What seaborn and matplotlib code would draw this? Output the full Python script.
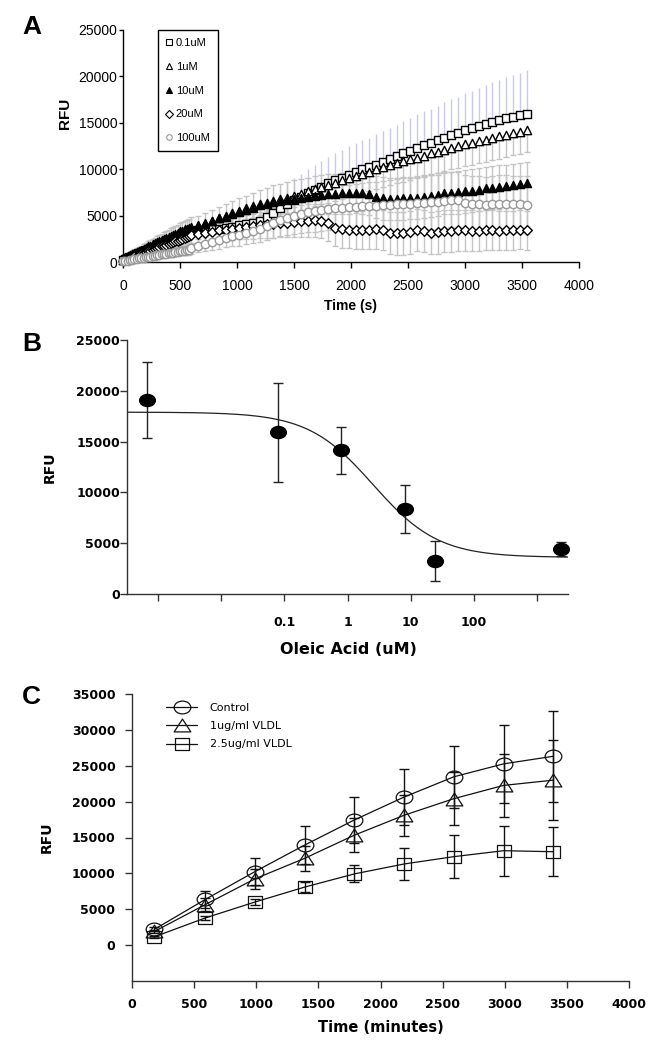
import numpy as np
import pandas as pd
import matplotlib.pyplot as plt
import seaborn as sns
from matplotlib.path import Path
from matplotlib.lines import Line2D
from matplotlib.ticker import NullLocator

# --- style ---
sns.set_theme(style='ticks')
plt.rcParams['font.family'] = ['Liberation Sans', 'DejaVu Sans']
plt.rcParams.update({'text.color': 'black', 'axes.labelcolor': 'black',
                     'xtick.color': 'black', 'ytick.color': 'black',
                     'axes.edgecolor': 'black'})

W, H = 657, 1050

# PANEL A: kinetic reads (RFU vs time in seconds)
time_a = [0, 20, 40, 60, 80, 100, 120, 140, 160, 180,
          200, 220, 240, 260, 280, 300, 320, 340, 360, 380,
          400, 420, 440, 460, 480, 500, 520, 540, 560, 580,
          600, 660, 720, 780, 840, 900, 960, 1020, 1080, 1140,
          1200, 1260, 1320, 1380, 1440, 1500, 1560, 1620, 1680, 1740,
          1800, 1860, 1920, 1980, 2040, 2100, 2160, 2220, 2280, 2340,
          2400, 2460, 2520, 2580, 2640, 2700, 2760, 2820, 2880, 2940,
          3000, 3060, 3120, 3180, 3240, 3300, 3360, 3420, 3480, 3540]

rfu_01 = [200, 320, 410, 530, 620, 740, 830, 960, 1040, 1170,
          1250, 1380, 1460, 1590, 1670, 1800, 1880, 2010, 2090, 2210,
          2290, 2420, 2500, 2610, 2690, 2810, 2890, 3010, 3090, 3200,
          3300, 3400, 3500, 3550, 3600, 3700, 3800, 3950, 4100, 4200,
          4400, 4800, 5300, 5800, 6300, 6700, 7000, 7400, 7800, 8100,
          8500, 8800, 9100, 9400, 9700, 10000, 10200, 10500, 10800, 11100,
          11400, 11700, 12000, 12300, 12600, 12800, 13100, 13400, 13700, 13900,
          14200, 14400, 14700, 14900, 15100, 15300, 15500, 15600, 15800, 16000]
sd_01 = [200, 230, 240, 270, 280, 310, 320, 350, 360, 380,
         410, 420, 450, 460, 490, 500, 530, 540, 560, 590,
         600, 630, 640, 660, 690, 700, 720, 750, 760, 790,
         900, 950, 1000, 1050, 1100, 1180, 1250, 1320, 1400, 1500,
         1600, 1750, 1900, 2050, 2200, 2400, 2500, 2600, 2700, 2800,
         2850, 2900, 3000, 3050, 3100, 3150, 3200, 3250, 3300, 3350,
         3400, 3450, 3500, 3600, 3650, 3700, 3750, 3800, 3850, 3900,
         4000, 4050, 4100, 4200, 4250, 4300, 4400, 4500, 4600, 4700]

rfu_1 = [180, 300, 430, 520, 650, 740, 870, 960, 1090, 1180,
         1310, 1400, 1530, 1620, 1750, 1840, 1970, 2060, 2190, 2280,
         2410, 2490, 2610, 2690, 2810, 2890, 3010, 3090, 3260, 3400,
         3600, 3850, 4100, 4400, 4700, 5000, 5250, 5500, 5800, 6000,
         6200, 6400, 6550, 6750, 6900, 7100, 7350, 7600, 7850, 8100,
         8300, 8550, 8800, 9050, 9250, 9500, 9750, 10000, 10200, 10450,
         10700, 10850, 11050, 11250, 11450, 11700, 11900, 12100, 12300, 12500,
         12700, 12850, 13050, 13200, 13400, 13550, 13700, 13900, 14050, 14250]
sd_1 = [150, 180, 190, 220, 230, 260, 270, 300, 310, 340,
        350, 380, 390, 420, 430, 460, 470, 500, 510, 540,
        550, 580, 590, 620, 630, 650, 670, 690, 700, 720,
        800, 850, 900, 950, 1000, 1050, 1100, 1150, 1200, 1250,
        1300, 1400, 1450, 1550, 1600, 1700, 1750, 1800, 1850, 1900,
        1950, 1950, 2000, 2000, 2050, 2050, 2100, 2100, 2150, 2150,
        2200, 2200, 2250, 2250, 2250, 2300, 2300, 2300, 2300, 2350,
        2350, 2350, 2350, 2400, 2400, 2400, 2400, 2400, 2400, 2400]

rfu_10 = [400, 530, 620, 760, 850, 990, 1080, 1220, 1310, 1450,
          1540, 1680, 1770, 1910, 2000, 2140, 2230, 2370, 2460, 2600,
          2690, 2830, 2920, 3060, 3150, 3290, 3380, 3510, 3590, 3700,
          3800, 3950, 4200, 4450, 4700, 4900, 5150, 5400, 5600, 5850,
          6100, 6250, 6450, 6550, 6700, 6800, 6950, 7050, 7150, 7250,
          7300, 7350, 7400, 7400, 7450, 7400, 7300, 7000, 6850, 6800,
          6800, 6850, 6900, 6950, 7050, 7150, 7250, 7400, 7450, 7500,
          7600, 7700, 7800, 7950, 8000, 8100, 8200, 8300, 8400, 8500]
sd_10 = [200, 240, 260, 300, 320, 360, 380, 420, 440, 470,
         500, 540, 560, 590, 620, 650, 680, 700, 720, 740,
         760, 790, 800, 830, 840, 870, 880, 910, 920, 950,
         1000, 1050, 1100, 1150, 1250, 1300, 1400, 1450, 1500, 1600,
         1650, 1700, 1800, 1850, 1900, 2000, 2000, 2050, 2100, 2100,
         2150, 2150, 2200, 2200, 2200, 2250, 2250, 2250, 2300, 2300,
         2300, 2350, 2300, 2300, 2350, 2300, 2300, 2250, 2300, 2300,
         2300, 2350, 2300, 2300, 2300, 2350, 2300, 2300, 2300, 2300]

rfu_20 = [150, 250, 320, 430, 500, 610, 680, 790, 860, 970,
          1040, 1150, 1220, 1330, 1400, 1510, 1580, 1690, 1760, 1870,
          1940, 2050, 2120, 2230, 2300, 2410, 2490, 2610, 2690, 2800,
          2900, 3000, 3150, 3250, 3400, 3500, 3600, 3700, 3750, 3850,
          3950, 4050, 4100, 4200, 4250, 4300, 4400, 4450, 4500, 4450,
          4200, 3700, 3550, 3500, 3450, 3450, 3500, 3550, 3450, 3150,
          3100, 3100, 3200, 3450, 3300, 3100, 3200, 3350, 3350, 3400,
          3400, 3350, 3350, 3400, 3400, 3350, 3400, 3400, 3450, 3400]
sd_20 = [100, 120, 150, 170, 190, 210, 240, 260, 280, 300,
         330, 350, 370, 390, 420, 440, 460, 480, 510, 530,
         550, 570, 600, 620, 640, 660, 690, 710, 730, 750,
         900, 950, 1000, 1050, 1100, 1150, 1200, 1250, 1300, 1350,
         1400, 1450, 1500, 1550, 1600, 1650, 1700, 1750, 1800, 1850,
         1900, 1950, 2000, 2000, 2050, 2050, 2100, 2100, 2200, 2250,
         2300, 2300, 2300, 2300, 2250, 2250, 2300, 2300, 2250, 2200,
         2200, 2200, 2150, 2150, 2150, 2100, 2100, 2100, 2100, 2100]

rfu_100 = [80, 130, 160, 220, 250, 300, 330, 390, 410, 470,
           500, 560, 580, 640, 660, 720, 750, 810, 830, 890,
           920, 980, 1000, 1060, 1080, 1140, 1160, 1220, 1240, 1300,
           1500, 1750, 1950, 2150, 2400, 2600, 2800, 2950, 3150, 3350,
           3600, 3900, 4200, 4500, 4750, 5000, 5200, 5350, 5450, 5600,
           5700, 5800, 5850, 5900, 5950, 6000, 6050, 6050, 6100, 6150,
           6200, 6250, 6300, 6350, 6400, 6450, 6500, 6600, 6700, 6650,
           6400, 6300, 6250, 6150, 6200, 6250, 6250, 6200, 6200, 6150]
sd_100 = [50, 70, 80, 100, 110, 130, 140, 160, 170, 190,
          200, 220, 230, 250, 260, 280, 290, 310, 320, 340,
          350, 370, 380, 400, 410, 430, 440, 460, 470, 500,
          600, 700, 800, 850, 950, 1000, 1100, 1200, 1250, 1350,
          1450, 1550, 1650, 1750, 1850, 1950, 2050, 2100, 2200, 2250,
          2300, 2350, 2400, 2450, 2500, 2550, 2600, 2600, 2650, 2700,
          2750, 2750, 2800, 2850, 2850, 2900, 2900, 2950, 2950, 3000,
          3000, 3000, 3050, 3050, 3050, 3100, 3100, 3100, 3100, 3100]

doses_a = ['0.1uM', '1uM', '10uM', '20uM', '100uM']

conc_b = [0.00068, 0.08, 0.8, 8, 24, 2400]
rfu_b = [19100, 15900, 14150, 8400, 3250, 4450]
sd_b = [3700, 4900, 2300, 2350, 2000, 700]
fit_top, fit_bottom, fit_logec50, fit_hill = 17900, 3600, 0.407, 0.84
b_ticks = [0.001, 0.01, 0.1, 1, 10, 100, 1000]
b_ticklabels = ['', '', '0.1', '1', '10', '100', '']

# PANEL C: VLDL time course
time_c = [180, 590, 990, 1390, 1790, 2190, 2590, 2990, 3390]
control = [2200, 6370, 10250, 13950, 17450, 20640, 23460, 25260, 26320]
control_sd = [300, 1150, 1850, 2600, 3200, 3930, 4340, 5450, 6370]
vldl_1 = [1900, 5650, 9240, 12100, 15330, 18100, 20410, 22260, 22990]
vldl_1_sd = [250, 900, 1400, 1700, 2370, 2870, 3650, 4400, 5600]
vldl_25 = [1160, 3790, 6010, 8090, 9930, 11310, 12330, 13160, 13020]
vldl_25_sd = [150, 300, 400, 700, 1200, 2170, 2950, 3460, 3400]
labels_c = ['Control', '1ug/ml VLDL', '2.5ug/ml VLDL']


# the original figure is a bit stretched sideways, so the markers are too
def wide(verts, sx=1.3):
    v = np.array(verts, dtype=float)
    v[:, 0] *= sx
    return Path(v, closed=True)

circ = Path.unit_circle()
ell = Path(circ.vertices * [1.3, 1.0], circ.codes)
tri_w = wide([(0, 1), (-1, -1), (1, -1), (0, 1)])
sq_w = wide([(-1, -1), (1, -1), (1, 1), (-1, 1), (-1, -1)], 1.15)


def panel(l, t, r, b):
    return [l / W, 1 - b / H, (r - l) / W, (b - t) / H]


fig = plt.figure(figsize=(W / 100, H / 100), dpi=100)
ax_a = fig.add_axes(panel(123, 30, 579, 262))
ax_b = fig.add_axes(panel(127, 340, 568, 594))
ax_c = fig.add_axes(panel(132, 694, 629, 981))

# --- Panel A ---
grey = '#c4c4c4'
zeros = [0] * len(time_a)
ax_a.errorbar(time_a, rfu_01, yerr=[zeros, sd_01], fmt='none', ecolor='#c8c8f6',
              elinewidth=1, capsize=0, zorder=1)
ax_a.errorbar(time_a, rfu_1, yerr=[sd_1, zeros], fmt='none', ecolor=grey,
              elinewidth=1, capsize=2.5, zorder=1.2)
for vals, sd in [(rfu_10, sd_10), (rfu_20, sd_20), (rfu_100, sd_100)]:
    ax_a.errorbar(time_a, vals, yerr=sd, fmt='none', ecolor=grey,
                  elinewidth=1, capsize=2.5, zorder=1.2)

styles_a = [('s', 'white', 'black', 32), ('^', 'white', 'black', 36),
            ('^', 'black', 'black', 34), ('D', 'white', 'black', 24),
            ('o', 'white', '#999999', 36)]
for vals, (m, fc, ec, s) in zip([rfu_01, rfu_1, rfu_10, rfu_20, rfu_100], styles_a):
    sns.scatterplot(x=time_a, y=vals, marker=m, s=s, color=fc, edgecolor=ec,
                    linewidth=1.0, ax=ax_a, zorder=3, clip_on=False)

handles_a = [Line2D([], [], ls='none', marker=m, ms=4, mfc=fc, mec=ec, mew=0.8)
             for (m, fc, ec, s) in styles_a]
leg = ax_a.legend(handles_a, doses_a, loc='upper left', bbox_to_anchor=(0.077, 1.0),
                  frameon=True, fancybox=False, edgecolor='black', framealpha=1,
                  fontsize=8, labelspacing=1.25, handlelength=0.6,
                  handletextpad=0.3, borderpad=0.7, borderaxespad=0)
leg.get_frame().set_linewidth(1.0)

ax_a.set_xlim(0, 4000)
ax_a.set_ylim(0, 25000)
ax_a.set_xticks(range(0, 4001, 500))
ax_a.set_yticks(range(0, 25001, 5000))
sns.despine(ax=ax_a)
ax_a.tick_params(axis='both', labelsize=10, length=3, width=1, color='black', direction='out')
ax_a.tick_params(axis='x', pad=8, length=4)
ax_a.tick_params(axis='y', pad=1)
for sp in ax_a.spines.values():
    sp.set_color('black')
    sp.set_linewidth(1)
fig.text(65 / W, 1 - 113 / H, 'RFU', rotation=90, fontsize=11, weight='bold',
         ha='center', va='center')
fig.text(350 / W, 1 - 306 / H, 'Time (s)', fontsize=10, weight='bold',
         ha='center', va='center')

# --- Panel B ---
bold = dict(family=['DejaVu Sans'], weight='bold')
ax_b.errorbar(conc_b, rfu_b, yerr=sd_b, fmt='none', ecolor='#222222',
              elinewidth=1, capsize=3.5, capthick=1, zorder=2)
sns.scatterplot(x=conc_b, y=rfu_b, marker=ell, s=130, color='black',
                edgecolor='black', ax=ax_b, zorder=3, clip_on=False)
fit_x = np.logspace(-3.49, 3.49, 300)
fit_y = fit_bottom + (fit_top - fit_bottom) / (1 + 10 ** ((np.log10(fit_x) - fit_logec50) * fit_hill))
sns.lineplot(x=fit_x, y=fit_y, color='#222222', linewidth=0.9, ax=ax_b, zorder=2)

ax_b.set_xscale('log')
ax_b.set_xlim(10 ** -3.49, 10 ** 3.49)
ax_b.set_ylim(0, 25000)
ax_b.set_xticks(b_ticks)
ax_b.set_xticklabels(b_ticklabels)
ax_b.xaxis.set_minor_locator(NullLocator())
ax_b.set_yticks(range(0, 25001, 5000))
sns.despine(ax=ax_b)
ax_b.tick_params(axis='both', length=5, width=1, color='#333333', direction='out')
ax_b.tick_params(axis='x', pad=11)
ax_b.tick_params(axis='y', pad=0)
for lab in ax_b.get_xticklabels() + ax_b.get_yticklabels():
    lab.set_fontproperties({'family': 'DejaVu Sans', 'weight': 'bold', 'size': 9})
for sp in ax_b.spines.values():
    sp.set_color('#333333')
    sp.set_linewidth(1)
fig.text(50 / W, 1 - 467 / H, 'RFU', rotation=90, fontsize=10, ha='center', va='center', **bold)
fig.text(348 / W, 1 - 650 / H, 'Oleic Acid (uM)', fontsize=11.5, ha='center', va='center', **bold)

# --- Panel C ---
series_c = [(control, control_sd, ell, 12), (vldl_1, vldl_1_sd, tri_w, 12),
            (vldl_25, vldl_25_sd, sq_w, 10)]
for vals, sd, m, ms in series_c:
    ax_c.errorbar(time_c, vals, yerr=sd, fmt='none', ecolor='#111111',
                  elinewidth=1, capsize=3.5, capthick=1, zorder=2)
    sns.lineplot(x=time_c, y=vals, color='#111111', linewidth=0.9, marker=m,
                 markersize=ms, markerfacecolor='none', markeredgecolor='#111111',
                 markeredgewidth=0.9, ax=ax_c, zorder=3)

handles_c = [Line2D([], [], color='#111111', lw=0.9, marker=m, ms=ms, mfc='none',
                    mec='#111111', mew=0.9) for (_, _, m, ms) in series_c]
ax_c.legend(handles_c, labels_c, loc='upper left', bbox_to_anchor=(0.06, 0.985),
            frameon=False, prop={'family': 'DejaVu Sans', 'size': 8},
            handlelength=2.8, handletextpad=1.1, labelspacing=0.75, borderaxespad=0)

ax_c.set_xlim(0, 4000)
ax_c.set_ylim(-5000, 35000)
ax_c.set_xticks(range(0, 4001, 500))
ax_c.set_yticks(range(0, 35001, 5000))
sns.despine(ax=ax_c)
ax_c.tick_params(axis='both', length=5, width=1, color='#333333', direction='out')
ax_c.tick_params(axis='x', pad=7)
ax_c.tick_params(axis='y', pad=7)
for lab in ax_c.get_xticklabels() + ax_c.get_yticklabels():
    lab.set_fontproperties({'family': 'DejaVu Sans', 'weight': 'bold', 'size': 9})
for sp in ax_c.spines.values():
    sp.set_color('#333333')
    sp.set_linewidth(1)
fig.text(47 / W, 1 - 837 / H, 'RFU', rotation=90, fontsize=10, ha='center', va='center', **bold)
fig.text(381 / W, 1 - 1027 / H, 'Time (minutes)', fontsize=10.5, ha='center', va='center', **bold)

# panel letters
for letter, (x, y) in zip('ABC', [(32, 27), (32, 344), (31, 697)]):
    fig.text(x / W, 1 - y / H, letter, fontsize=19, weight='bold', ha='center', va='center',
             family=['Liberation Sans', 'DejaVu Sans'])

fig.savefig('out.png', dpi=100)
